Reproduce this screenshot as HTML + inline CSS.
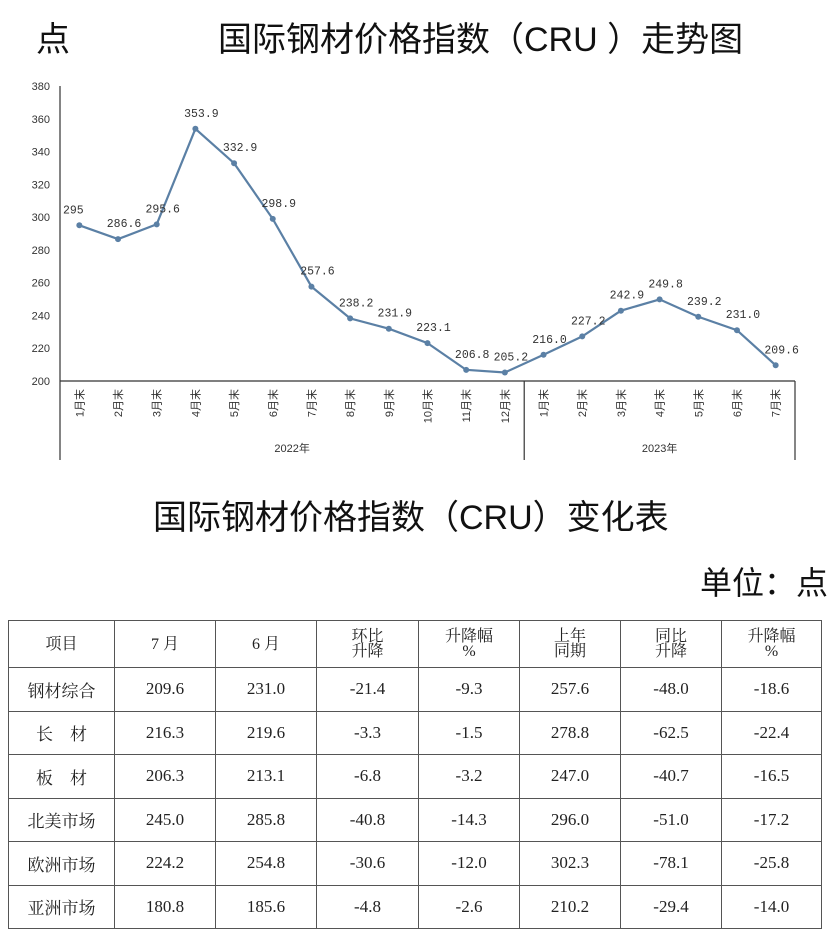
<!DOCTYPE html>
<html><head><meta charset="utf-8">
<style>
body{margin:0;width:827px;height:948px;background:#fff;position:relative;overflow:hidden;font-family:"Liberation Sans","Noto Sans CJK SC",sans-serif;}
.t{position:absolute;white-space:nowrap;color:#111;}
table{position:absolute;left:8px;top:620px;border-collapse:collapse;font-family:"Liberation Serif","Noto Serif CJK SC",serif;color:#222;}
td{border:1.5px solid #555;text-align:center;font-size:17px;padding:0;}
tr.h td{height:46px;font-size:16px;line-height:15px;vertical-align:middle}
tr.r td{height:42.5px}
</style></head><body>
<div class="t" style="left:36px;top:12px;font-size:34px;">点</div>
<div class="t" style="left:218px;top:12px;font-size:34px;">国际钢材价格指数（CRU ）走势图</div>
<svg id="chart" width="827" height="470" style="position:absolute;left:0;top:0"></svg>
<div class="t" style="left:153px;top:490px;font-size:34px;">国际钢材价格指数（CRU）变化表</div>
<div class="t" style="left:700px;top:558px;font-size:32px;">单位：点</div>
<table>
<colgroup><col style="width:106px"><col style="width:101px"><col style="width:101px"><col style="width:102px"><col style="width:101px"><col style="width:101px"><col style="width:101px"><col style="width:100px"></colgroup>
<tr class="h"><td>项目</td><td>7 月</td><td>6 月</td><td>环比<br>升降</td><td>升降幅<br>%</td><td>上年<br>同期</td><td>同比<br>升降</td><td>升降幅<br>%</td></tr>
<tr class="r"><td>钢材综合</td><td>209.6</td><td>231.0</td><td>-21.4</td><td>-9.3</td><td>257.6</td><td>-48.0</td><td>-18.6</td></tr>
<tr class="r"><td>长　材</td><td>216.3</td><td>219.6</td><td>-3.3</td><td>-1.5</td><td>278.8</td><td>-62.5</td><td>-22.4</td></tr>
<tr class="r"><td>板　材</td><td>206.3</td><td>213.1</td><td>-6.8</td><td>-3.2</td><td>247.0</td><td>-40.7</td><td>-16.5</td></tr>
<tr class="r"><td>北美市场</td><td>245.0</td><td>285.8</td><td>-40.8</td><td>-14.3</td><td>296.0</td><td>-51.0</td><td>-17.2</td></tr>
<tr class="r"><td>欧洲市场</td><td>224.2</td><td>254.8</td><td>-30.6</td><td>-12.0</td><td>302.3</td><td>-78.1</td><td>-25.8</td></tr>
<tr class="r"><td>亚洲市场</td><td>180.8</td><td>185.6</td><td>-4.8</td><td>-2.6</td><td>210.2</td><td>-29.4</td><td>-14.0</td></tr>
</table>
<script>
const categories=["1月末","2月末","3月末","4月末","5月末","6月末","7月末","8月末","9月末","10月末","11月末","12月末","1月末","2月末","3月末","4月末","5月末","6月末","7月末"];
const values=[295,286.6,295.6,353.9,332.9,298.9,257.6,238.2,231.9,223.1,206.8,205.2,216.0,227.2,242.9,249.8,239.2,231.0,209.6];
const valueLabels=["295","286.6","295.6","353.9","332.9","298.9","257.6","238.2","231.9","223.1","206.8","205.2","216.0","227.2","242.9","249.8","239.2","231.0","209.6"];
const yTicks=[200,220,240,260,280,300,320,340,360,380];
const years=["2022年","2023年"];
const yearCounts=[12,7];
const NS="http://www.w3.org/2000/svg";
const svg=document.getElementById('chart');
const x0=60,x1=795,yTop=86,yBot=381;
const band=(x1-x0)/categories.length;
const xs=i=>x0+band*(i+0.5);
const ys=v=>yBot-(v-200)/(380-200)*(yBot-yTop);
function mk(t,a){const e=document.createElementNS(NS,t);for(const k in a)e.setAttribute(k,a[k]);svg.appendChild(e);return e;}
let e;
e=mk('line',{x1:x0,y1:yTop,x2:x0,y2:460,stroke:'#333','stroke-width':1.2});


e=mk('line',{x1:x0,y1:yBot,x2:x1,y2:yBot,stroke:'#333','stroke-width':1.2});


yTicks.forEach(v=>{const t=mk('text',{x:x0-10,y:ys(v)+4,'text-anchor':'end','font-size':11,fill:'#333'});t.textContent=v;

});
categories.forEach((c,i)=>{const t=mk('text',{transform:`translate(${xs(i)+4},${yBot+8}) rotate(-90)`,'text-anchor':'end','font-size':11,fill:'#333'});t.textContent=c;

});
let start=0;
years.forEach((y,k)=>{const end=start+yearCounts[k];
const t=mk('text',{x:(x0+band*start+x0+band*end)/2,y:452,'text-anchor':'middle','font-size':11,fill:'#333'});t.textContent=y;


e=mk('line',{x1:x0+band*end,y1:yBot,x2:x0+band*end,y2:460,stroke:'#333','stroke-width':1.2});


start=end;});
const pts=values.map((v,i)=>xs(i)+','+ys(v)).join(' ');
e=mk('polyline',{points:pts,fill:'none',stroke:'#5b80a5','stroke-width':2.2});


values.forEach((v,i)=>{e=mk('circle',{cx:xs(i),cy:ys(v),r:3,fill:'#5b80a5'});


const t=mk('text',{x:xs(i)+(i==0?-6:6),y:ys(v)-12,'text-anchor':'middle','font-size':11.5,fill:'#333','font-family':'Liberation Mono, monospace'});t.textContent=valueLabels[i];

});
</script>
</body></html>
